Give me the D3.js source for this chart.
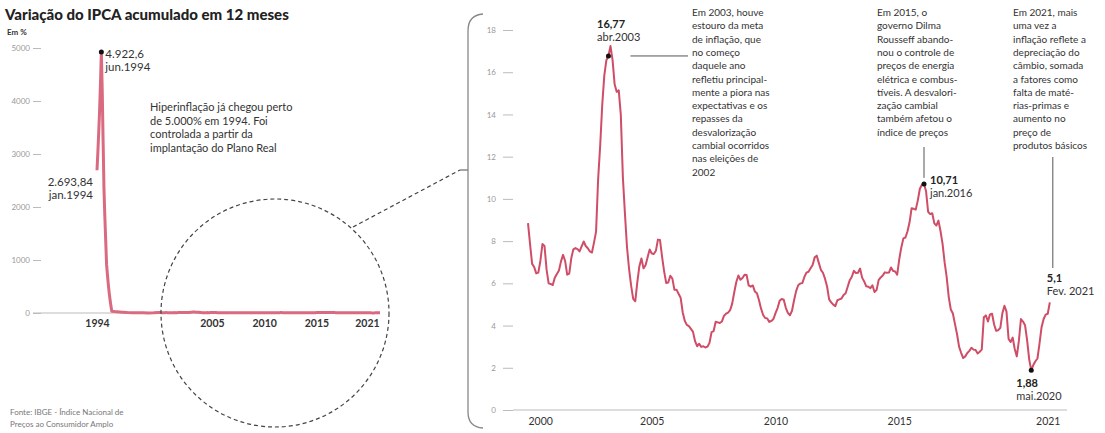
<!DOCTYPE html>
<html>
<head>
<meta charset="utf-8">
<script src="https://cdn.jsdelivr.net/npm/d3@7"></script>
<style>
  body { margin: 0; background: #fff; }
  svg { display: block; font-family: Lato, "Open Sans", "Noto Sans", sans-serif; }
</style>
</head>
<body>
<svg id="chart" width="1105" height="433"></svg>
<script>
// IPCA accumulated over 12 months (%), 1994-1999 (sparse months)
const earlyMonths = [
  "1994-01","1994-02","1994-03","1994-04","1994-05","1994-06","1994-07","1994-08",
  "1994-09","1994-10","1994-11","1994-12","1995-01","1995-02","1995-03","1995-04",
  "1995-05","1995-06","1995-09","1995-12","1996-06","1996-12","1997-06","1997-12",
  "1998-06","1998-12","1999-06","1999-12"
];
const earlyValues = [
  2693.84, 3035, 3417, 3828, 4331, 4922.6, 4207, 3253,
  2350, 1820, 1370, 916.46, 720, 540, 380, 250,
  130, 33.0, 27.0, 22.41, 15.4, 9.56, 6.8, 5.22,
  3.0, 1.65, 3.3, 8.94
];

// Monthly IPCA accumulated over 12 months (%), Jan 2000 to Feb 2021
const seriesStart = [2000, 1];
const ipcaValues = [
  8.85, 7.86, 6.92, 6.77, 6.47, 6.51, 7.06, 7.86, 7.77, 6.66, 6.00, 5.97,
  5.92, 6.27, 6.44, 6.61, 7.04, 7.35, 7.06, 6.41, 6.46, 7.20, 7.61, 7.67,
  7.62, 7.51, 7.75, 7.98, 7.77, 7.66, 7.51, 7.46, 7.93, 8.45, 10.93, 12.53,
  14.47, 15.85, 16.57, 16.77, 17.24, 16.57, 15.43, 15.07, 15.14, 13.98, 11.02, 9.30,
  7.71, 6.69, 5.89, 5.26, 5.15, 6.06, 6.81, 7.18, 6.71, 6.86, 7.24, 7.60,
  7.41, 7.39, 7.54, 8.07, 8.05, 7.27, 6.57, 6.02, 6.04, 6.36, 6.22, 5.69,
  5.70, 5.51, 5.32, 4.63, 4.23, 4.03, 3.97, 3.84, 3.70, 3.26, 3.02, 3.14,
  2.99, 3.02, 2.96, 3.00, 3.18, 3.69, 3.74, 4.18, 4.15, 4.12, 4.19, 4.46,
  4.56, 4.61, 4.73, 5.04, 5.58, 6.06, 6.37, 6.17, 6.25, 6.41, 6.39, 5.90,
  5.84, 5.90, 5.61, 5.53, 5.20, 4.80, 4.50, 4.36, 4.34, 4.17, 4.22, 4.31,
  4.59, 4.83, 5.17, 5.26, 5.22, 4.84, 4.60, 4.49, 4.70, 5.20, 5.63, 5.91,
  5.99, 6.01, 6.30, 6.51, 6.55, 6.71, 6.87, 7.23, 7.31, 6.97, 6.64, 6.50,
  6.22, 5.85, 5.24, 5.10, 4.99, 4.92, 5.20, 5.24, 5.28, 5.45, 5.53, 5.84,
  6.15, 6.31, 6.59, 6.49, 6.50, 6.70, 6.27, 6.09, 5.86, 5.84, 5.77, 5.91,
  5.59, 5.68, 6.15, 6.28, 6.37, 6.52, 6.50, 6.51, 6.75, 6.59, 6.56, 6.41,
  7.14, 7.70, 8.13, 8.17, 8.47, 8.89, 9.56, 9.53, 9.49, 9.93, 10.48, 10.67,
  10.71, 10.36, 9.39, 9.28, 9.32, 8.84, 8.74, 8.97, 8.48, 7.87, 6.99, 6.29,
  5.35, 4.76, 4.57, 4.08, 3.60, 3.00, 2.71, 2.46, 2.54, 2.70, 2.80, 2.95,
  2.86, 2.84, 2.68, 2.76, 2.86, 4.39, 4.48, 4.19, 4.53, 4.56, 4.05, 3.75,
  3.78, 3.89, 4.58, 4.94, 4.66, 3.37, 3.22, 3.43, 2.89, 2.54, 3.27, 4.31,
  4.19, 4.01, 3.30, 2.40, 1.88, 2.13, 2.31, 2.44, 3.14, 3.92, 4.31, 4.52,
  4.56, 5.10
];

// Axis ticks
const leftYTicks = [0, 1000, 2000, 3000, 4000, 5000];
const leftXTicks = [1994, 2005, 2010, 2015, 2021];
const rightYTicks = [0, 2, 4, 6, 8, 10, 12, 14, 16, 18];
const rightXTicks = [2000, 2005, 2010, 2015, 2021];

// Highlighted points
const leftMarks = [
  { month: "1994-06", when: "jun.1994", dot: true },
  { month: "1994-01", when: "jan.1994", dot: false }
];
const rightMarks = [
  { month: "2003-04", when: "abr.2003", dot: true },
  { month: "2016-01", when: "jan.2016", dot: true },
  { month: "2020-05", when: "mai.2020", dot: true },
  { month: "2021-02", when: "Fev. 2021", dot: false }
];

// Annotation texts
const titleText = "Variação do IPCA acumulado em 12 meses";
const unitText = "Em %";
const noteHyper = ["Hiperinflação já chegou perto", "de 5.000% em 1994. Foi",
  "controlada a partir da", "implantação do Plano Real"];
const note2003 = ["Em 2003, houve", "estouro da meta", "de inflação, que", "no começo",
  "daquele ano", "refletiu principal-", "mente a piora nas", "expectativas e os",
  "repasses da", "desvalorização", "cambial ocorridos", "nas eleições de", "2002"];
const note2015 = ["Em 2015, o", "governo Dilma", "Rousseff abando-", "nou o controle de",
  "preços de energia", "elétrica e combus-", "tíveis. A desvalori-", "zação cambial",
  "também afetou o", "índice de preços"];
const note2021 = ["Em 2021, mais", "uma vez a", "inflação reflete a", "depreciação do",
  "câmbio, somada", "a fatores como", "falta de maté-", "rias-primas e",
  "aumento no", "preço de", "produtos básicos"];
const sourceText = ["Fonte: IBGE - Índice Nacional de", "Preços ao Consumidor Amplo"];

// ---------------------------------------------------------------
const svg = d3.select("#chart");
const FONT = 'Lato, "Open Sans", "Noto Sans", sans-serif';
const ptBR = d3.formatLocale({ decimal: ",", thousands: ".", grouping: [3], currency: ["R$", ""] });
const fmtNum = ptBR.format(",");

const toYear = m => { const [y, mo] = m.split("-").map(Number); return y + (mo - 1) / 12; };
const recent = ipcaValues.map((v, i) => ({ t: seriesStart[0] + (seriesStart[1] - 1 + i) / 12, v }));
const early = earlyMonths.map((m, i) => ({ t: toYear(m), v: earlyValues[i] }));
const fullSeries = early.concat(recent);
const lookup = m => { const t = toYear(m); return fullSeries.find(d => Math.abs(d.t - t) < 1e-6); };

function textBlock(g, lines, x, y0, step, size, color, weight) {
  g.append("text")
    .attr("x", x).attr("y", y0)
    .style("font-family", FONT).style("font-size", size + "px")
    .style("font-weight", weight || 400).attr("fill", color)
    .selectAll("tspan").data(lines).join("tspan")
    .attr("x", x).attr("y", (d, i) => y0 + i * step).text(d => d);
}

// Title
svg.append("text").attr("x", 5).attr("y", 20).text(titleText)
  .style("font-family", FONT).style("font-size", "15px").style("font-weight", 900).attr("fill", "#222");
svg.append("text").attr("x", 7).attr("y", 35).text(unitText)
  .style("font-family", FONT).style("font-size", "8px").style("font-weight", 700).attr("fill", "#333");

// ---------------- Left chart: 1994 to 2021 ----------------
const xL = d3.scaleLinear().domain([1994, 2021 + 1 / 12]).range([97, 380]);
const yL = d3.scaleLinear().domain([0, 5000]).range([313, 48]);
const left = svg.append("g");

const gyL = left.append("g").attr("transform", "translate(41,0)")
  .call(d3.axisLeft(yL).tickValues(leftYTicks).tickSize(8).tickPadding(3).tickFormat(d3.format("d")));
gyL.select(".domain").remove();
gyL.selectAll("line").attr("stroke", "#bbb");
gyL.selectAll("text").attr("fill", "#999").style("font-size", "8px").style("font-family", FONT);

left.append("line").attr("x1", 33).attr("x2", xL.range()[1]).attr("y1", yL(0)).attr("y2", yL(0))
  .attr("stroke", "#bbb").attr("stroke-width", 1);

const gxL = left.append("g").attr("transform", `translate(0,${yL(0)})`)
  .call(d3.axisBottom(xL).tickValues(leftXTicks).tickSize(0).tickPadding(7).tickFormat(d3.format("d")));
gxL.select(".domain").remove();
gxL.selectAll("text").attr("fill", "#333").style("font-size", "10.5px").style("font-family", FONT)
  .style("font-weight", 700)
  .attr("text-anchor", d => d === 2021 ? "end" : "middle");

left.append("path").datum(fullSeries)
  .attr("fill", "none").attr("stroke", "#d96a80").attr("stroke-width", 3)
  .attr("stroke-linejoin", "round")
  .attr("d", d3.line().x(d => xL(d.t)).y(d => yL(d.v)));

leftMarks.forEach(m => {
  const p = lookup(m.month);
  const px = xL(p.t), py = yL(p.v);
  if (m.dot) {
    left.append("circle").attr("cx", px).attr("cy", py).attr("r", 2.5).attr("fill", "#111");
    const g = left.append("g");
    g.append("text").attr("x", px + 4).attr("y", py + 6).text(fmtNum(p.v))
      .style("font-family", FONT).style("font-size", "11.5px").attr("fill", "#333");
    g.append("text").attr("x", px + 4).attr("y", py + 19).text(m.when)
      .style("font-family", FONT).style("font-size", "11.5px").attr("fill", "#333");
  } else {
    const g = left.append("g").attr("text-anchor", "end");
    g.append("text").attr("x", px - 4).attr("y", py + 16).text(fmtNum(p.v))
      .style("font-family", FONT).style("font-size", "11.5px").attr("fill", "#333");
    g.append("text").attr("x", px - 4).attr("y", py + 29).text(m.when)
      .style("font-family", FONT).style("font-size", "11.5px").attr("fill", "#333");
  }
});

textBlock(left, noteHyper, 150, 111, 13.5, 11, "#333");
textBlock(svg, sourceText, 10, 415, 11.5, 8, "#777");

// Magnifier circle and connector
svg.append("circle").attr("cx", 275).attr("cy", 313).attr("r", 114)
  .attr("fill", "none").attr("stroke", "#444").attr("stroke-width", 1.2).attr("stroke-dasharray", "4,3");
svg.append("line").attr("x1", 353).attr("y1", 227).attr("x2", 460).attr("y2", 170)
  .attr("stroke", "#444").attr("stroke-width", 1.2).attr("stroke-dasharray", "4,3");

// Bracket enclosing the zoomed chart
svg.append("path")
  .attr("d", "M483,14 Q468,15 468,31 L468,412 Q468,427 483,428 M460,170 L468,170")
  .attr("fill", "none").attr("stroke", "#888").attr("stroke-width", 1.3);

// ---------------- Right chart: 2000 to 2021 ----------------
const xR = d3.scaleLinear().domain([2000, 2021]).range([528, 528 + 21 * 24.75]);
const yR = d3.scaleLinear().domain([0, 18]).range([410, 30]);
const right = svg.append("g");

const gyR = right.append("g").attr("transform", "translate(513,0)")
  .call(d3.axisLeft(yR).tickValues(rightYTicks).tickSize(10).tickPadding(7));
gyR.select(".domain").remove();
gyR.selectAll("line").attr("stroke", "#bbb");
gyR.selectAll("text").attr("fill", "#999").style("font-size", "8px").style("font-family", FONT);

right.append("line").attr("x1", 513).attr("x2", 1067).attr("y1", yR(0)).attr("y2", yR(0))
  .attr("stroke", "#bbb").attr("stroke-width", 1);

const gxR = right.append("g").attr("transform", `translate(0,${yR(0)})`)
  .call(d3.axisBottom(xR).tickValues(rightXTicks).tickSize(0).tickPadding(8).tickFormat(d3.format("d")));
gxR.select(".domain").remove();
gxR.selectAll("text").attr("fill", "#333").style("font-size", "10.5px").style("font-family", FONT)
  .attr("text-anchor", d => d === 2000 ? "start" : "middle");

right.append("path").datum(recent)
  .attr("fill", "none").attr("stroke", "#cf4d66").attr("stroke-width", 2)
  .attr("stroke-linejoin", "round")
  .attr("d", d3.line().x(d => xR(d.t)).y(d => yR(d.v)));

// Notes
textBlock(right, note2003, 692, 16, 13.3, 10, "#333");
textBlock(right, note2015, 877, 16, 13.3, 10, "#333");
textBlock(right, note2021, 1013, 16, 13.3, 10, "#333");

const pt = m => { const p = lookup(m); return { x: xR(p.t), y: yR(p.v), v: p.v }; };
const p03 = pt(rightMarks[0].month), p16 = pt(rightMarks[1].month),
      p20 = pt(rightMarks[2].month), p21 = pt(rightMarks[3].month);

// Leader lines
right.append("line").attr("x1", p03.x + 22).attr("x2", 688).attr("y1", p03.y).attr("y2", p03.y)
  .attr("stroke", "#555").attr("stroke-width", 1);
right.append("line").attr("x1", p16.x).attr("x2", p16.x).attr("y1", 147).attr("y2", p16.y - 6)
  .attr("stroke", "#555").attr("stroke-width", 1);
right.append("line").attr("x1", p21.x + 3).attr("x2", p21.x + 3).attr("y1", 157).attr("y2", 268)
  .attr("stroke", "#555").attr("stroke-width", 1);

[p03, p16, p20].forEach(p => right.append("circle").attr("cx", p.x).attr("cy", p.y).attr("r", 2.5).attr("fill", "#111"));

function valueLabel(x, y, value, when) {
  const g = right.append("g").style("font-family", FONT).style("font-size", "11px");
  g.append("text").attr("x", x).attr("y", y).text(fmtNum(value)).style("font-weight", 700).attr("fill", "#222");
  g.append("text").attr("x", x).attr("y", y + 13).text(when).attr("fill", "#333");
}
valueLabel(597, 28, p03.v, rightMarks[0].when);
valueLabel(p16.x + 6, 184, p16.v, rightMarks[1].when);
valueLabel(p20.x - 15, 387, p20.v, rightMarks[2].when);
valueLabel(p21.x - 3, 282, p21.v, rightMarks[3].when);
</script>
</body>
</html>
